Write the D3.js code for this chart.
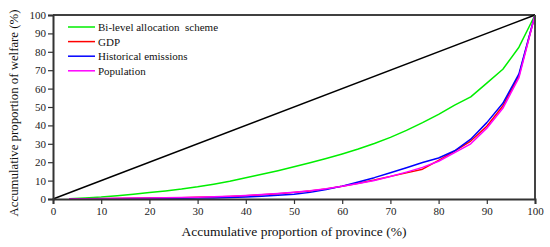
<!DOCTYPE html>
<html>
<head>
<meta charset="utf-8">
<script src="https://cdn.jsdelivr.net/npm/d3@7"></script>
<style>
  body { margin: 0; background: #fff; }
  text { font-family: "Liberation Serif", serif; }
</style>
</head>
<body>
<div id="chart"></div>
<script>
// accumulative proportion of province (%), 30 provinces
var provinces = [3.33, 6.67, 10, 13.33, 16.67, 20, 23.33, 26.67, 30, 33.33, 36.67, 40, 43.33, 46.67, 50,
                 53.33, 56.67, 60, 63.33, 66.67, 70, 73.33, 76.67, 80, 83.33, 86.67, 90, 93.33, 96.67, 100];

var bilevel = [0.2, 0.6, 1.1, 1.8, 2.6, 3.5, 4.4, 5.4, 6.6, 8.0, 9.6, 11.5, 13.4, 15.4, 17.5,
               19.7, 22.0, 24.5, 27.2, 30.2, 33.5, 37.3, 41.5, 46, 51, 55.5, 63, 70.5, 82.5, 100];
var gdp = [0.05, 0.1, 0.2, 0.3, 0.4, 0.5, 0.6, 0.7, 0.9, 1.1, 1.4, 1.8, 2.3, 2.9, 3.6,
           4.4, 5.5, 6.9, 8.5, 10.3, 12.3, 14.2, 16.2, 21, 26, 31.5, 39.5, 50.5, 67, 100];
var emissions = [0.02, 0.05, 0.1, 0.15, 0.2, 0.25, 0.3, 0.4, 0.5, 0.6, 0.8, 1.1, 1.5, 2.0, 2.6,
                 3.6, 5.2, 7.0, 9.2, 11.6, 14.3, 17, 19.8, 22.3, 26.2, 32.5, 41.5, 52, 68, 100];
var population = [0.1, 0.2, 0.3, 0.4, 0.5, 0.6, 0.7, 0.85, 1.0, 1.2, 1.5, 1.9, 2.4, 3.0, 3.7,
                  4.5, 5.6, 6.9, 8.4, 10.1, 12.2, 14.6, 17.2, 20.5, 25.2, 30, 38.5, 49.3, 66, 100];

var equalityX = [0, 100];
var equalityY = [0, 100];

var ticks = [0, 10, 20, 30, 40, 50, 60, 70, 80, 90, 100];

var series = [
    { name: "Bi-level allocation  scheme", values: bilevel, color: "#00ee00" },
    { name: "GDP", values: gdp, color: "#ff0000" },
    { name: "Historical emissions", values: emissions, color: "#0000ff" },
    { name: "Population", values: population, color: "#ff00ff" }
];

var svgWidth = 550, svgHeight = 247;
var margin = { top: 15, right: 15, bottom: 48, left: 53 };
var width = svgWidth - margin.left - margin.right;
var height = svgHeight - margin.top - margin.bottom;

var svg = d3.select("#chart").append("svg")
    .attr("width", svgWidth)
    .attr("height", svgHeight);

var g = svg.append("g")
    .attr("transform", "translate(" + margin.left + "," + margin.top + ")");

var x = d3.scaleLinear().domain([0, 100]).range([0, width]);
var y = d3.scaleLinear().domain([0, 100]).range([height, 0]);

var line = d3.line()
    .x(function(d) { return x(d[0]); })
    .y(function(d) { return y(d[1]); });

// equality line
g.append("path")
    .datum(d3.zip(equalityX, equalityY))
    .attr("fill", "none")
    .attr("stroke", "#000")
    .attr("stroke-width", 1.5)
    .attr("d", line);

series.forEach(function(s) {
    g.append("path")
        .datum(d3.zip(provinces, s.values))
        .attr("fill", "none")
        .attr("stroke", s.color)
        .attr("stroke-width", 1.5)
        .attr("stroke-linejoin", "round")
        .attr("d", line);
});

// frame top / right
g.append("line")
    .attr("x1", 0).attr("x2", width).attr("y1", 0).attr("y2", 0)
    .attr("stroke", "#000").attr("stroke-width", 1.5);
g.append("line")
    .attr("x1", width).attr("x2", width).attr("y1", 0).attr("y2", height)
    .attr("stroke", "#444").attr("stroke-width", 2);

var xAxis = g.append("g")
    .attr("transform", "translate(0," + height + ")")
    .call(d3.axisBottom(x).tickValues(ticks).tickSize(5).tickPadding(3));

var yAxis = g.append("g")
    .call(d3.axisLeft(y).tickValues(ticks).tickSize(5).tickPadding(2));

[xAxis, yAxis].forEach(function(a) {
    a.select(".domain").attr("stroke", "#333").attr("stroke-width", 2);
    a.selectAll(".tick line").attr("stroke", "#333").attr("stroke-width", 1.2);
    a.selectAll(".tick text")
        .attr("fill", "#222")
        .style("font-family", "'Liberation Serif', serif")
        .style("font-size", "11px");
});

svg.append("text")
    .attr("x", margin.left + width / 2)
    .attr("y", 236)
    .attr("text-anchor", "middle")
    .attr("fill", "#111")
    .style("font-size", "13.5px")
    .text("Accumulative proportion of province (%)");

svg.append("text")
    .attr("transform", "translate(18,113) rotate(-90)")
    .attr("text-anchor", "middle")
    .attr("fill", "#111")
    .style("font-size", "12.8px")
    .text("Accumulative proportion of welfare (%)");

// legend
var legend = g.append("g").attr("transform", "translate(15,12)");
series.forEach(function(s, i) {
    var row = legend.append("g").attr("transform", "translate(0," + (i * 14.6) + ")");
    row.append("line")
        .attr("x1", 0).attr("x2", 27).attr("y1", 0).attr("y2", 0)
        .attr("stroke", s.color).attr("stroke-width", 1.5);
    row.append("text")
        .attr("x", 30).attr("y", 4)
        .attr("fill", "#111")
        .style("font-size", "11px")
        .style("white-space", "pre")
        .text(s.name);
});
</script>
</body>
</html>
